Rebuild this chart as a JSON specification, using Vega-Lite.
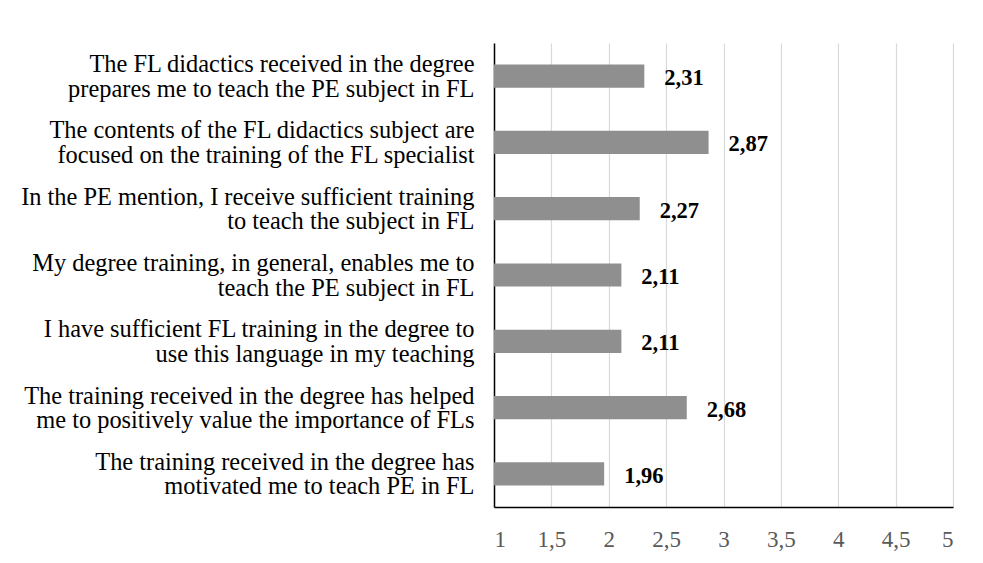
{
  "$schema": "https://vega.github.io/schema/vega-lite/v6.json",
  "width": 459,
  "height": 464,
  "autosize": {"type": "none"},
  "padding": {"left": 494, "top": 43, "right": 30, "bottom": 56},
  "background": "white",
  "config": {
    "locale": {"number": {"decimal": ",", "thousands": ".", "grouping": [3], "currency": ["", " €"]}},
    "font": "Liberation Serif",
    "axis": {"labelFont": "Liberation Serif"},
    "text": {"font": "Liberation Serif"},
    "view": {"stroke": null}
  },
  "data": {
    "values": [
      {"item": "The FL didactics received in the degree|prepares me to teach the PE subject in FL", "value": 2.31},
      {"item": "The contents of the FL didactics subject are|focused on the training of the FL specialist", "value": 2.87},
      {"item": "In the PE mention, I receive sufficient training|to teach the subject in FL", "value": 2.27},
      {"item": "My degree training, in general, enables me to|teach the PE subject in FL", "value": 2.11},
      {"item": "I have sufficient FL training in the degree to|use this language in my teaching", "value": 2.11},
      {"item": "The training received in the degree has helped|me to positively value the importance of FLs", "value": 2.68},
      {"item": "The training received in the degree has|motivated me to teach PE in FL", "value": 1.96}
    ]
  },
  "encoding": {
    "y": {
      "field": "item",
      "type": "nominal",
      "sort": null,
      "scale": {"paddingInner": 0.65, "paddingOuter": 0.325},
      "axis": {
        "title": null,
        "labelExpr": "split(datum.label, '|')",
        "labelFont": "Liberation Serif",
        "labelFontSize": 24.4,
        "labelLineHeight": 24.5,
        "labelColor": "#000000",
        "labelPadding": 20,
        "labelOffset": -11,
        "labelLimit": 500,
        "ticks": false,
        "domainColor": "#000000",
        "domainWidth": 1.5
      }
    },
    "x": {
      "field": "value",
      "type": "quantitative",
      "scale": {"domain": [1, 5], "nice": false, "zero": false},
      "axis": {
        "title": null,
        "values": [1, 1.5, 2, 2.5, 3, 3.5, 4, 4.5, 5],
        "format": "~g",
        "labelFont": "Liberation Serif",
        "labelFontSize": 23,
        "labelColor": "#595959",
        "labelPadding": 21,
        "ticks": false,
        "grid": true,
        "gridColor": "#d9d9d9",
        "gridWidth": 1.2,
        "domainColor": "#000000",
        "domainWidth": 1.5
      }
    }
  },
  "layer": [
    {
      "mark": {"type": "bar", "color": "#8f8f8f"},
      "encoding": {"x2": {"datum": 1}}
    },
    {
      "mark": {"type": "text", "align": "left", "baseline": "middle", "dx": 20, "dy": 2, "font": "Liberation Serif", "fontSize": 22.5, "fontWeight": "bold", "color": "#000000"},
      "encoding": {
        "text": {"field": "value", "type": "quantitative", "format": ".2f"}
      }
    }
  ]
}
